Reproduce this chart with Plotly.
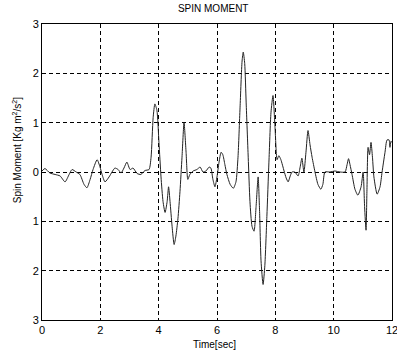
import plotly.graph_objects as go

time_s = [0.00, 0.10, 0.27, 0.45, 0.62, 0.79, 0.93, 1.03, 1.17, 1.30, 1.44, 1.54, 1.65, 1.75, 1.89,
          1.99, 2.06, 2.16, 2.30, 2.40, 2.50, 2.61, 2.71, 2.81, 2.91, 3.02, 3.12, 3.26, 3.39, 3.53,
          3.67, 3.74, 3.81, 3.87, 3.94, 4.01, 4.08, 4.15, 4.22, 4.29, 4.34, 4.39, 4.46, 4.53, 4.59,
          4.66, 4.73, 4.80, 4.87, 4.94, 5.00, 5.07, 5.18, 5.31, 5.42, 5.52, 5.62, 5.73, 5.79, 5.86,
          5.93, 6.00, 6.07, 6.14, 6.20, 6.27, 6.34, 6.45, 6.56, 6.65, 6.72, 6.79, 6.86, 6.90, 6.95,
          7.00, 7.07, 7.13, 7.20, 7.27, 7.34, 7.41, 7.46, 7.51, 7.58, 7.64, 7.71, 7.78, 7.85, 7.92,
          7.99, 8.06, 8.12, 8.19, 8.30, 8.37, 8.44, 8.50, 8.57, 8.67, 8.78, 8.85, 8.91, 8.98, 9.05,
          9.12, 9.19, 9.26, 9.36, 9.46, 9.56, 9.63, 9.70, 9.87, 10.04, 10.22, 10.39, 10.46, 10.51,
          10.56, 10.63, 10.73, 10.83, 10.94, 11.01, 11.06, 11.11, 11.14, 11.18, 11.23, 11.28, 11.33,
          11.38, 11.49, 11.59, 11.66, 11.76, 11.83, 11.90, 11.93, 11.96, 12.00]
spin_moment = [0.02, 0.07, -0.02, -0.05, -0.08, -0.20, -0.05, 0.05, 0.00, -0.05, -0.25, -0.32, -0.15, 0.05, 0.25,
               0.10, -0.05, -0.20, -0.10, 0.00, 0.08, 0.05, -0.02, 0.08, 0.20, 0.05, 0.08, -0.03, -0.05, 0.03,
               0.05, 0.30, 1.10, 1.38, 1.25, 0.60, -0.10, -0.60, -0.82, -0.60, -0.30, -0.60, -1.10, -1.47, -1.30,
               -0.95, -0.40, 0.30, 1.00, 0.40, -0.15, -0.05, 0.02, 0.05, 0.10, 0.00, 0.02, 0.10, 0.08, -0.15,
               -0.30, -0.10, 0.20, 0.40, 0.35, 0.15, -0.05, -0.25, -0.33, -0.20, 0.30, 1.30, 2.25, 2.43, 2.20,
               1.40, 0.30, -0.60, -1.10, -1.20, -0.70, -0.10, -0.80, -1.80, -2.28, -1.90, -0.90, 0.20, 1.20, 1.55,
               0.90, 0.25, 0.33, 0.25, 0.02, -0.12, -0.20, -0.10, 0.00, 0.00, -0.08, 0.10, 0.28, 0.00, 0.40,
               0.84, 0.55, 0.30, 0.00, -0.25, -0.35, -0.25, 0.00, 0.00, 0.02, 0.00, 0.00, 0.15, 0.27,
               0.15, -0.05, -0.35, -0.47, -0.30, 0.00, -0.70, -1.18, -0.40, 0.50, 0.35, 0.60, 0.30,
               -0.10, -0.45, -0.30, 0.00, 0.40, 0.65, 0.65, 0.50, 0.62, 0.60]

x_ticks = [0, 2, 4, 6, 8, 10, 12]
x_tick_labels = ["0", "2", "4", "6", "8", "10", "12"]
y_ticks = [-3, -2, -1, 0, 1, 2, 3]
y_tick_labels = ["3", "2", "1", "0", "1", "2", "3"]

font_family = "Liberation Sans, Arial, sans-serif"

fig = go.Figure()
fig.add_trace(go.Scatter(
    x=time_s, y=spin_moment, mode="lines",
    line=dict(color="#222222", width=1, shape="spline", smoothing=0.6),
    showlegend=False, hoverinfo="skip",
))

axis_common = dict(
    showline=True, mirror=True, linecolor="black", linewidth=1,
    showgrid=True, gridcolor="black", gridwidth=1, griddash="4px,3px",
    zeroline=False, ticks="", ticklabeloverflow="allow", automargin=False,
    tickfont=dict(family=font_family, size=11, color="black"),
)

fig.update_layout(
    width=397, height=356,
    margin=dict(l=42, r=5, t=24, b=36, autoexpand=False),
    paper_bgcolor="white", plot_bgcolor="white",
    title=dict(text="SPIN MOMENT", x=0.537, xanchor="center", y=0.985, yanchor="top",
               font=dict(family=font_family, size=10, color="black")),
    xaxis=dict(range=[0, 12], tickvals=x_ticks, ticktext=x_tick_labels, **axis_common),
    yaxis=dict(range=[-3, 3], tickvals=y_ticks, ticktext=y_tick_labels, **axis_common),
    annotations=[
        dict(text="Time[sec]", xref="paper", yref="paper", x=0.494, y=-0.084,
             xanchor="center", yanchor="middle", showarrow=False,
             font=dict(family=font_family, size=10, color="black")),
        dict(text="Spin Moment [Kg m<sup>2</sup>/s<sup>2</sup>]", xref="paper", yref="paper",
             x=-0.071, y=0.574, xanchor="center", yanchor="middle", textangle=-90, showarrow=False,
             font=dict(family=font_family, size=10, color="black")),
    ],
)

fig.write_html("out.html")
